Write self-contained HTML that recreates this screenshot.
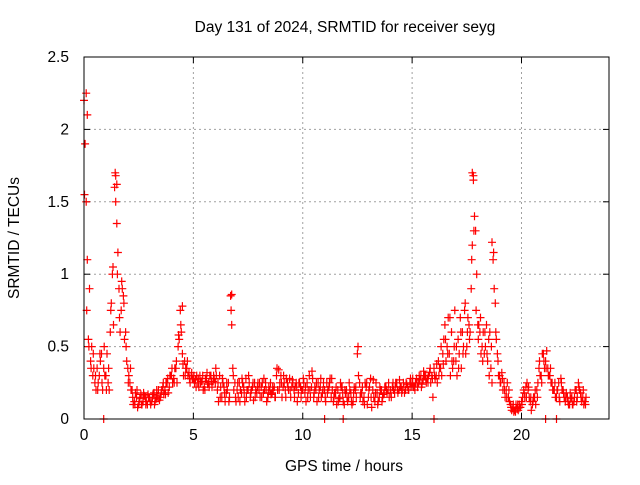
<!DOCTYPE html>
<html><head><meta charset="utf-8"><style>
body{margin:0;background:#fff}
svg text{font-family:"Liberation Sans",sans-serif;font-size:15.5px;fill:#000}
</style></head><body>
<svg id="c" width="640" height="480" xmlns="http://www.w3.org/2000/svg"></svg>
<script>
const xTicks=[0,5,10,15,20];
const yTicks=[0,0.5,1,1.5,2,2.5];
const yTickLabels=["0","0.5","1","1.5","2","2.5"];
const tStart=0, tStep=0.1;
const seriesA=[2.2,1.5,0.55,0.4,0.3,0.25,0.35,0.3,0.45,0.35,
0.3,0.25,0.6,1.0,1.6,1.35,0.9,0.75,0.85,0.6,
0.35,0.25,0.2,0.12,0.15,0.1,0.17,0.12,0.15,0.1,
0.15,0.12,0.18,0.14,0.2,0.15,0.22,0.2,0.25,0.22,
0.3,0.28,0.35,0.5,0.75,0.45,0.4,0.35,0.32,0.3,
0.28,0.27,0.25,0.3,0.26,0.22,0.28,0.25,0.3,0.26,
0.25,0.2,0.3,0.15,0.22,0.18,0.25,0.85,0.35,0.25,
0.2,0.25,0.18,0.22,0.28,0.2,0.15,0.22,0.25,0.18,
0.2,0.22,0.18,0.25,0.15,0.2,0.18,0.22,0.3,0.34,
0.3,0.22,0.2,0.25,0.28,0.22,0.2,0.25,0.18,0.22,
0.2,0.18,0.25,0.3,0.22,0.15,0.2,0.25,0.22,0.18,
0.2,0.25,0.22,0.15,0.12,0.18,0.2,0.15,0.22,0.1,
0.2,0.15,0.18,0.12,0.2,0.45,0.25,0.18,0.15,0.22,
0.15,0.28,0.2,0.12,0.18,0.15,0.2,0.17,0.22,0.2,
0.2,0.22,0.18,0.25,0.2,0.22,0.25,0.2,0.22,0.25,
0.25,0.22,0.28,0.25,0.3,0.27,0.3,0.28,0.32,0.3,
0.35,0.3,0.4,0.35,0.45,0.65,0.5,0.45,0.6,0.4,
0.4,0.55,0.7,0.6,0.75,0.5,0.65,0.9,1.65,1.3,
0.65,0.6,0.5,0.45,0.65,0.55,0.35,1.1,0.8,0.45,
0.3,0.32,0.25,0.2,0.15,0.1,0.08,0.06,0.07,0.1,
0.12,0.2,0.22,0.2,0.12,0.1,0.15,0.2,0.35,0.3,
0.45,0.4,0.35,0.3,0.25,0.2,0.15,0.25,0.28,0.2,
0.12,0.15,0.1,0.15,0.12,0.2,0.25,0.18,0.15,0.12];
const seriesB=[1.9,1.1,0.9,0.5,0.35,0.2,0.25,0.4,0.2,0.3,
0.45,0.2,0.8,0.65,1.5,1.15,0.6,0.9,0.55,0.4,
0.3,0.2,0.1,0.18,0.08,0.14,0.1,0.16,0.12,0.15,
0.1,0.17,0.12,0.16,0.13,0.2,0.17,0.25,0.18,0.3,
0.25,0.35,0.25,0.55,0.6,0.3,0.35,0.3,0.25,0.28,
0.25,0.3,0.22,0.26,0.2,0.28,0.24,0.3,0.22,0.28,
0.3,0.12,0.22,0.25,0.12,0.2,0.15,0.65,0.2,0.12,
0.15,0.2,0.25,0.12,0.2,0.25,0.2,0.13,0.2,0.25,
0.15,0.25,0.2,0.12,0.22,0.17,0.2,0.15,0.2,0.25,
0.15,0.25,0.28,0.2,0.15,0.25,0.22,0.12,0.25,0.2,
0.25,0.12,0.2,0.15,0.28,0.22,0.12,0.2,0.15,0.25,
0.12,0.2,0.28,0.2,0.18,0.1,0.14,0.22,0.12,0.18,
0.12,0.2,0.1,0.22,0.15,0.3,0.18,0.12,0.25,0.1,
0.22,0.08,0.15,0.25,0.12,0.2,0.15,0.22,0.18,0.15,
0.15,0.2,0.25,0.18,0.22,0.2,0.18,0.24,0.2,0.22,
0.22,0.25,0.22,0.27,0.24,0.3,0.25,0.3,0.25,0.15,
0.28,0.25,0.35,0.3,0.55,0.4,0.7,0.3,0.35,0.75,
0.3,0.45,0.35,0.5,0.45,0.7,0.6,1.2,1.4,1.0,
0.65,0.45,0.6,0.5,0.4,0.6,0.25,0.9,0.55,0.3,
0.25,0.2,0.15,0.25,0.12,0.06,0.05,0.1,0.06,0.08,
0.15,0.15,0.25,0.15,0.06,0.15,0.1,0.25,0.3,0.45,
0.35,0.47,0.3,0.25,0.2,0.15,0.2,0.12,0.2,0.15,
0.18,0.1,0.14,0.1,0.2,0.15,0.2,0.12,0.1,0.15];
const seriesC=[1.55,0.75,0.5,0.35,0.45,0.3,0.2,0.45,0.25,0.5,
0.2,0.35,0.75,1.05,1.7,1.0,0.7,0.95,0.8,0.5,
0.25,0.35,0.15,0.1,0.2,0.12,0.1,0.18,0.1,0.17,
0.12,0.15,0.1,0.2,0.15,0.18,0.25,0.17,0.28,0.3,
0.35,0.25,0.4,0.58,0.65,0.38,0.3,0.4,0.28,0.32,
0.3,0.22,0.28,0.25,0.3,0.2,0.32,0.22,0.26,0.3,
0.35,0.25,0.15,0.28,0.18,0.25,0.12,0.75,0.3,0.15,
0.25,0.12,0.28,0.18,0.15,0.3,0.18,0.25,0.15,0.22,
0.25,0.15,0.28,0.2,0.18,0.25,0.22,0.15,0.35,0.2,
0.25,0.3,0.15,0.22,0.2,0.27,0.15,0.22,0.25,0.15,
0.28,0.22,0.15,0.2,0.33,0.18,0.25,0.15,0.28,0.2,
0.15,0.18,0.25,0.28,0.15,0.22,0.12,0.25,0.18,0.2,
0.15,0.25,0.12,0.18,0.22,0.5,0.15,0.22,0.1,0.25,
0.2,0.15,0.27,0.18,0.1,0.22,0.12,0.18,0.2,0.25,
0.18,0.25,0.22,0.2,0.27,0.18,0.22,0.25,0.2,0.28,
0.28,0.2,0.25,0.3,0.22,0.33,0.28,0.25,0.35,0.28,
0.3,0.38,0.3,0.5,0.38,0.55,0.45,0.7,0.4,0.5,
0.5,0.35,0.6,0.45,0.8,0.6,0.55,1.1,1.3,0.75,
0.55,0.7,0.4,0.6,0.45,0.3,0.5,1.15,0.6,0.4,
0.25,0.28,0.2,0.15,0.2,0.08,0.1,0.05,0.1,0.08,
0.1,0.18,0.15,0.22,0.15,0.12,0.2,0.15,0.4,0.25,
0.4,0.35,0.3,0.35,0.2,0.25,0.2,0.15,0.25,0.18,
0.15,0.12,0.18,0.1,0.15,0.12,0.22,0.15,0.2,0.1];
const peakTimes=[0.1,0.15,1.45,1.5,4.5,6.75,17.75,17.8,18.65];
const peakValues=[2.25,2.1,1.68,1.62,0.78,0.86,1.7,1.68,1.22];
const zeroTimes=[0.9,11.0,11.85,16.0,21.1,21.6];
const zeroValues=[0,0,0,0,0,0];

const L=84,R=609,T=57,B=419,XMAX=24,YMAX=2.5;
const sx=v=>L+(R-L)*v/XMAX, sy=v=>B-(B-T)*v/YMAX;
const svg=document.getElementById('c');
const NS='http://www.w3.org/2000/svg';
function mk(tag,attrs){const e=document.createElementNS(NS,tag);for(const k in attrs)e.setAttribute(k,attrs[k]);svg.appendChild(e);return e;}

xTicks.forEach(v=>{
  if(v>0){const g=mk('line',{x1:sx(v),x2:sx(v),y1:T,y2:B,stroke:'#a0a0a0','stroke-dasharray':'2,3'});
  
  }
  const t=mk('line',{x1:sx(v),x2:sx(v),y1:B,y2:B-6,stroke:'#000'});
  
  
  mk('line',{x1:sx(v),x2:sx(v),y1:T,y2:T+6,stroke:'#000'});
  const l=mk('text',{x:sx(v),y:B+21,'text-anchor':'middle'});l.textContent=String(v);
  
  
});
yTicks.forEach((v,i)=>{
  if(v>0&&v<YMAX){const g=mk('line',{x1:L,x2:R,y1:sy(v),y2:sy(v),stroke:'#a0a0a0','stroke-dasharray':'2,3'});
  
  }
  const t=mk('line',{x1:L,x2:L+6,y1:sy(v),y2:sy(v),stroke:'#000'});
  
  
  mk('line',{x1:R,x2:R-6,y1:sy(v),y2:sy(v),stroke:'#000'});
  const l=mk('text',{x:L-15,y:sy(v)+5,'text-anchor':'end'});l.textContent=yTickLabels[i];
  
  
});

let d='';
function plus(t,v){const x=sx(t),y=sy(v);d+=`M${(x-4).toFixed(1)} ${y.toFixed(1)}h8M${x.toFixed(1)} ${(y-4).toFixed(1)}v8`;}
seriesA.forEach((v,i)=>plus(tStart+i*tStep,v));
seriesB.forEach((v,i)=>plus(tStart+i*tStep+0.05,v));
seriesC.forEach((v,i)=>plus(tStart+i*tStep+0.025,v));
peakTimes.forEach((t,i)=>plus(t,peakValues[i]));
zeroTimes.forEach((t,i)=>plus(t,zeroValues[i]));
const p=mk('path',{d:d,stroke:'#ff0000','stroke-width':1.2,fill:'none'});



const f=mk('rect',{x:L,y:T,width:R-L,height:B-T,fill:'none',stroke:'#000'});


const ti=mk('text',{x:345,y:32,'text-anchor':'middle'});ti.textContent='Day 131 of 2024, SRMTID for receiver seyg';


const xl=mk('text',{x:344,y:471,'text-anchor':'middle'});xl.textContent='GPS time / hours';


const yl=mk('text',{x:19,y:238,'text-anchor':'middle',transform:'rotate(-90 19 238)'});yl.textContent='SRMTID / TECUs';


</script>
</body></html>
